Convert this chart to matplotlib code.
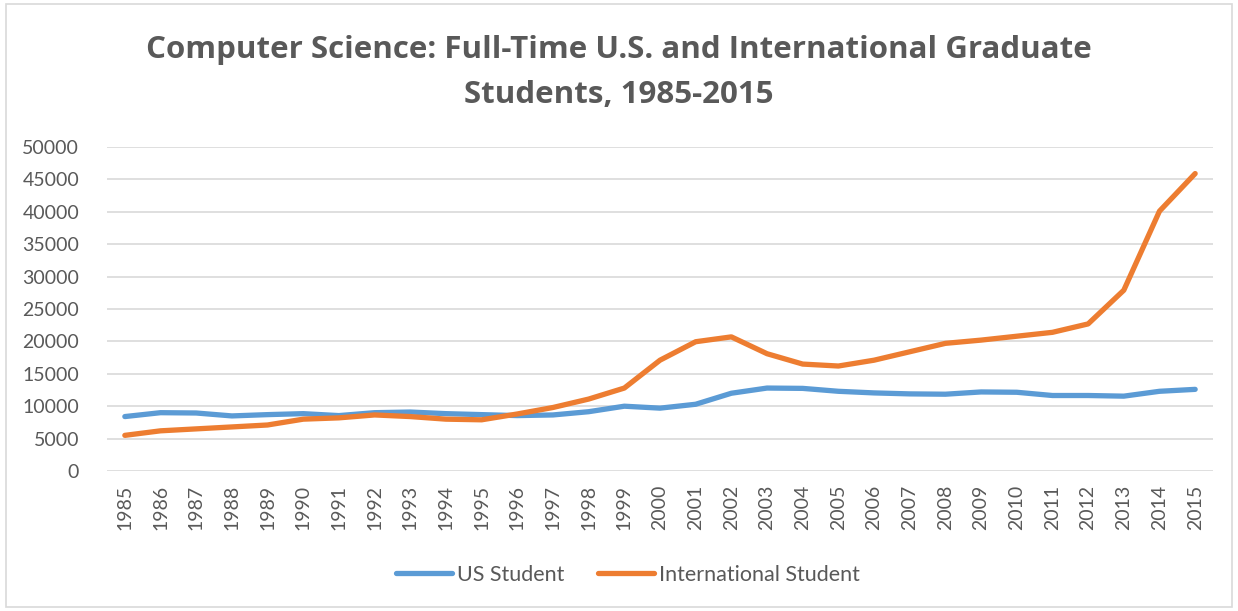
import matplotlib
matplotlib.use("Agg")
import matplotlib.pyplot as plt
from matplotlib.patches import Rectangle

years = [str(y) for y in range(1985, 2016)]
us_student = [8400, 9000, 8950, 8500, 8700, 8850, 8550, 9000, 9100, 8850,
              8700, 8550, 8650, 9150, 10000, 9700, 10300, 12000, 12800, 12750,
              12300, 12050, 11900, 11850, 12200, 12150, 11650, 11650, 11550, 12300, 12600]
intl_student = [5500, 6200, 6500, 6800, 7100, 8000, 8200, 8650, 8400, 8000,
                7900, 8800, 9800, 11100, 12800, 17100, 19950, 20700, 18100, 16500,
                16200, 17100, 18400, 19700, 20200, 20800, 21400, 22700, 27900, 40100, 45900]
y_ticks = list(range(0, 50001, 5000))

W, H = 1238, 611
fig = plt.figure(figsize=(W / 100, H / 100), dpi=100)
fig.patch.set_facecolor("white")
fig.patches.append(Rectangle((6 / W, 4 / H), (W - 12) / W, (H - 8) / H,
                             transform=fig.transFigure, fill=False,
                             edgecolor="#D9D9D9", linewidth=1.2))

left, right, top, bottom = 107, 1213, 147, 471
ax = fig.add_axes([left / W, 1 - bottom / H, (right - left) / W, (bottom - top) / H])

font = "Lato"
gray = "#595959"
x = list(range(len(years)))
ax.plot(x, us_student, color="#5B9BD5", lw=3.8, solid_capstyle="round",
        solid_joinstyle="round", label="US Student")
ax.plot(x, intl_student, color="#ED7D31", lw=3.8, solid_capstyle="round",
        solid_joinstyle="round", label="International Student")

ax.set_xlim(-0.5, len(years) - 0.5)
ax.set_ylim(0, 50000)
ax.set_yticks(y_ticks)
ax.set_yticklabels([str(v) for v in y_ticks], fontsize=14, color=gray, family=font)
ax.set_xticks(x)
ax.set_xticklabels(years, rotation=90, fontsize=14, color=gray, family=font)
ax.tick_params(axis="both", length=0)
ax.tick_params(axis="y", pad=20)
ax.tick_params(axis="x", pad=10)
ax.grid(axis="y", color="#D9D9D9", lw=1.2)
ax.set_axisbelow(True)
for s in ax.spines.values():
    s.set_visible(False)

tfont = "Open Sans"
fig.text(0.5, 1 - 50 / H, "Computer Science: Full-Time U.S. and International Graduate",
         ha="center", va="center", fontsize=22.5, fontweight="bold", color=gray, family=tfont)
fig.text(0.5, 1 - 95 / H, "Students, 1985-2015",
         ha="center", va="center", fontsize=22.5, fontweight="bold", color=gray, family=tfont)

leg = fig.legend(loc="center", bbox_to_anchor=(628 / W, 1 - 575 / H), ncol=2,
                 frameon=False, handlelength=2.6, handletextpad=0.2, columnspacing=1.6,
                 prop={"family": font, "size": 15.5})
for t in leg.get_texts():
    t.set_color(gray)

fig.savefig("out.png", dpi=100, facecolor="white")
